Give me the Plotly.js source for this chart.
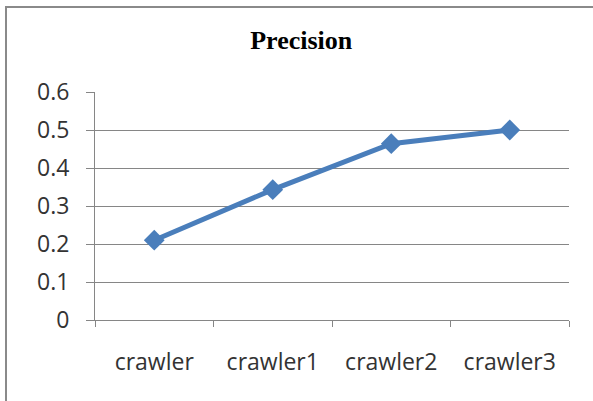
<!DOCTYPE html>
<html>
<head>
<meta charset="utf-8">
<script src="https://cdn.plot.ly/plotly-3.0.1.min.js"></script>
<style>
  html, body { margin: 0; padding: 0; background: #fff; }
  #chart { position: absolute; left: 0; top: 0; width: 593px; height: 401px; }
  #frame { position: absolute; left: 5px; top: 6px; width: 620px; height: 420px;
           border-left: 2px solid #8a8a8a; border-top: 2px solid #8a8a8a; pointer-events: none; }
</style>
</head>
<body>
<div id="chart"></div>
<div id="frame"></div>
<script>
const categories = ["crawler", "crawler1", "crawler2", "crawler3"];
const precision = [0.21, 0.343, 0.464, 0.50];
const yTickValues = [0, 0.1, 0.2, 0.3, 0.4, 0.5, 0.6];
const yTickLabels = ["0", "0.1", "0.2", "0.3", "0.4", "0.5", "0.6"];

const trace = {
  type: "scatter",
  mode: "lines+markers",
  x: categories,
  y: precision,
  line: { color: "#4a7ebb", width: 5 },
  marker: { symbol: "diamond", size: 16, color: "#4a7ebb" },
  showlegend: false,
  hoverinfo: "skip"
};

const layout = {
  width: 593,
  height: 401,
  margin: { l: 95, r: 24, t: 91.5, b: 81 },
  paper_bgcolor: "rgba(0,0,0,0)",
  plot_bgcolor: "#ffffff",
  title: {
    text: "<b>Precision</b>",
    font: { family: "Liberation Serif, Times New Roman, serif", size: 26, color: "#000" },
    x: 0.508, xref: "container", xanchor: "center",
    y: 0.9, yref: "container", yanchor: "middle"
  },
  xaxis: {
    type: "category",
    range: [-0.5, 3.5],
    showgrid: false,
    showline: true,
    linecolor: "#868686",
    linewidth: 1,
    ticks: "outside",
    tickson: "boundaries",
    ticklen: 6,
    tickcolor: "#868686",
    ticklabelstandoff: 21,
    tickfont: { family: "Open Sans, Liberation Sans, sans-serif", size: 23, color: "#333" },
    zeroline: false,
    fixedrange: true
  },
  yaxis: {
    range: [0, 0.6],
    tickmode: "array",
    tickvals: yTickValues,
    ticktext: yTickLabels,
    showgrid: true,
    gridcolor: "#868686",
    gridwidth: 1,
    showline: true,
    linecolor: "#868686",
    linewidth: 1,
    ticks: "outside",
    ticklen: 8,
    tickcolor: "#868686",
    ticklabelstandoff: 12,
    tickfont: { family: "Open Sans, Liberation Sans, sans-serif", size: 23, color: "#333" },
    zeroline: false,
    fixedrange: true
  }
};

Plotly.newPlot("chart", [trace], layout, { staticPlot: true, displayModeBar: false });
</script>
</body>
</html>
